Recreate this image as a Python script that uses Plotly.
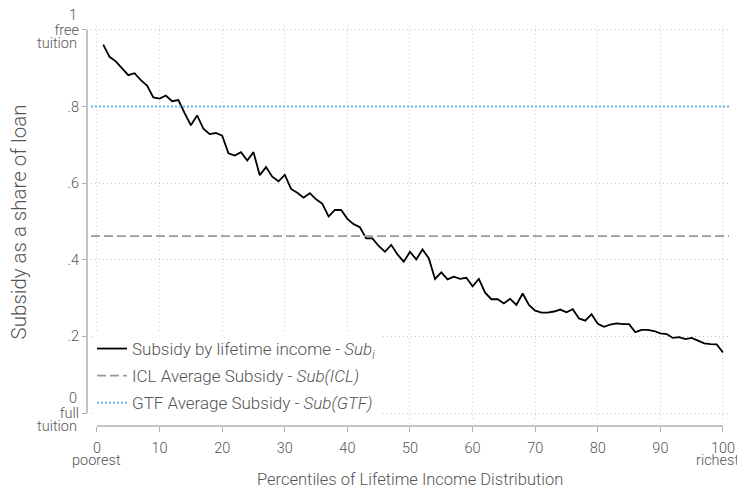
import plotly.graph_objects as go

# ---- data ----
percentiles = list(range(1, 101))
subsidy = [
    0.962, 0.930, 0.918, 0.901, 0.882, 0.887, 0.869, 0.855, 0.824, 0.821,
    0.829, 0.814, 0.817, 0.783, 0.751, 0.777, 0.742, 0.728, 0.731, 0.724,
    0.678, 0.672, 0.681, 0.659, 0.681, 0.621, 0.642, 0.617, 0.605, 0.622,
    0.585, 0.575, 0.562, 0.574, 0.558, 0.546, 0.513, 0.530, 0.530, 0.507,
    0.493, 0.485, 0.456, 0.456, 0.436, 0.421, 0.439, 0.414, 0.395, 0.421,
    0.401, 0.427, 0.404, 0.350, 0.367, 0.349, 0.356, 0.350, 0.353, 0.331,
    0.350, 0.314, 0.297, 0.297, 0.286, 0.298, 0.282, 0.312, 0.282, 0.267,
    0.262, 0.262, 0.265, 0.270, 0.263, 0.271, 0.247, 0.241, 0.258, 0.233,
    0.225, 0.231, 0.234, 0.232, 0.232, 0.211, 0.217, 0.217, 0.214, 0.208,
    0.206, 0.196, 0.198, 0.193, 0.196, 0.189, 0.182, 0.180, 0.179, 0.158,
]
icl_avg = 0.462
gtf_avg = 0.800

x_tickvals = [0, 10, 20, 30, 40, 50, 60, 70, 80, 90, 100]
x_ticktext = ["0", "10", "20", "30", "40", "50", "60", "70", "80", "90", "100"]
x_end_labels = [(0, "poorest", 0), (100, "richest", -5)]

y_tickvals = [0, 0.2, 0.4, 0.6, 0.8, 1]
y_ticktext = ["full", ".2", ".4", ".6", ".8", "free"]
# extra lines of the end labels: (value, line above, line below)
y_end_labels = [(0, "0", "tuition"), (1, "1", "tuition")]

legend_names = [
    "Subsidy by lifetime income - <i>Sub<sub>i</sub></i>",
    "ICL Average Subsidy - <i>Sub(ICL)</i>",
    "GTF Average Subsidy - <i>Sub(GTF)</i>",
]

X_RANGE = [-0.96, 100.96]
Y_RANGE = [-0.0209, 1.0104]

FONT = "Roboto"
TXT = "#555555"
AXC = "#b0b0b0"
GRID = "#c8c8c8"
TICKSIZE = 14.5

fig = go.Figure()
fig.add_trace(go.Scatter(x=percentiles, y=subsidy, mode="lines", legendgroup="a",
                         line=dict(color="black", width=1.8), name=legend_names[0]))
fig.add_trace(go.Scatter(x=X_RANGE, y=[icl_avg, icl_avg], mode="lines", legendgroup="b",
                         line=dict(color="#999999", width=1.8, dash="9px,4px"), name=legend_names[1]))
fig.add_trace(go.Scatter(x=X_RANGE, y=[gtf_avg, gtf_avg], mode="lines", legendgroup="c",
                         line=dict(color="#62b2e2", width=2, dash="2px,2px"), name=legend_names[2]))

annotations = [
    dict(text="Percentiles of Lifetime Income Distribution", xref="x", yref="paper",
         x=50, y=-0.1325, yanchor="middle", showarrow=False,
         font=dict(size=16.5, color=TXT, family=FONT, weight=300)),
    dict(text="Subsidy as a share of loan", xref="paper", yref="y",
         x=-0.1045, y=0.5, xanchor="center", yanchor="middle", textangle=-90,
         showarrow=False, borderpad=0,
         font=dict(size=20.5, color=TXT, family=FONT, weight=300)),
]
for xv, txt, xs in x_end_labels:
    annotations.append(dict(text=txt, xref="x", yref="paper", x=xv, y=0, yshift=-34, xshift=xs,
                            yanchor="middle", xanchor="center", showarrow=False,
                            font=dict(size=TICKSIZE, color=TXT, family=FONT, weight=300)))
for yv, above, below in y_end_labels:
    for txt, shift in ((above, 14.5), (below, -13.5)):
        annotations.append(dict(text=txt, xref="paper", yref="y", x=-0.012, y=yv, yshift=shift,
                                xanchor="right", yanchor="middle", showarrow=False,
                                font=dict(size=TICKSIZE, color=TXT, family=FONT, weight=300)))

fig.update_layout(
    width=737, height=481,
    margin=dict(l=79, r=16, t=18, b=63),
    paper_bgcolor="white", plot_bgcolor="white",
    font=dict(family=FONT, color=TXT, size=14, weight=300),
    showlegend=True,
    legend=dict(x=0.0078, y=0.0125, xanchor="left", yanchor="bottom",
                bgcolor="white", font=dict(size=17, color=TXT, family=FONT, weight=300),
                tracegroupgap=2, itemwidth=30),
    xaxis=dict(range=X_RANGE, domain=[0.0062, 1], anchor="free", position=0,
               tickvals=x_tickvals, ticktext=x_ticktext, ticks="outside", ticklen=5,
               tickwidth=1.3, tickcolor=AXC, showline=False, zeroline=False,
               showgrid=True, gridcolor=GRID, griddash="1px,3px", gridwidth=1,
               automargin=False, ticklabeloverflow="allow", ticklabelstandoff=4,
               tickfont=dict(size=TICKSIZE, color=TXT)),
    yaxis=dict(range=Y_RANGE, domain=[0.0125, 1], anchor="free", position=0,
               tickvals=y_tickvals, ticktext=y_ticktext, ticks="outside", ticklen=5,
               tickwidth=1.3, tickcolor=AXC, showline=False, zeroline=False,
               showgrid=True, gridcolor=GRID, griddash="1px,3px", gridwidth=1,
               automargin=False, ticklabeloverflow="allow",
               tickfont=dict(size=TICKSIZE, color=TXT)),
    shapes=[
        dict(type="line", xref="paper", yref="y", x0=0, x1=0, y0=0, y1=1,
             line=dict(color=AXC, width=1.5), layer="above"),
        dict(type="line", xref="x", yref="paper", x0=0, x1=100, y0=0, y1=0,
             line=dict(color=AXC, width=1.5), layer="above"),
    ],
    annotations=annotations,
)

fig.write_html("out.html")
